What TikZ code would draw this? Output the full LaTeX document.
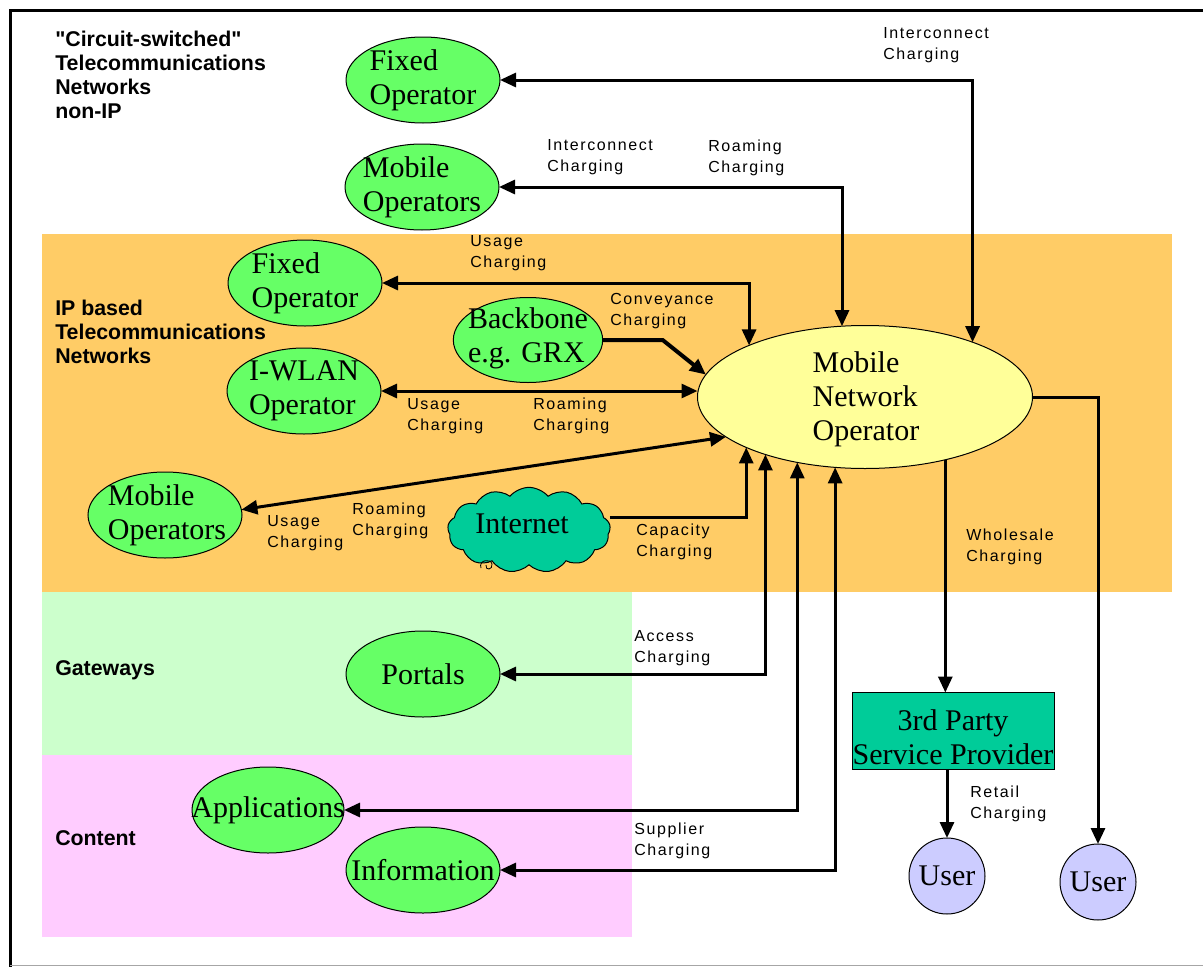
\documentclass[tikz,border=0pt]{standalone}
\usepackage{fontspec}
\setmainfont{Liberation Serif}
\setsansfont{Liberation Sans}[Ligatures=TeXOff]
\newfontfamily\lblfont[LetterSpace=10]{Liberation Sans}
\usetikzlibrary{shapes.geometric,shapes.symbols,arrows.meta}
\definecolor{bandor}{HTML}{FFCC66}
\definecolor{bandgr}{HTML}{CCFFCC}
\definecolor{bandpk}{HTML}{FFCCFF}
\definecolor{opgreen}{HTML}{66FF66}
\definecolor{mnoyel}{HTML}{FFFF99}
\definecolor{tealx}{HTML}{00CC99}
\definecolor{userc}{HTML}{CCCCFF}
\begin{document}
\begin{tikzpicture}[x=0.75pt,y=-0.75pt,
  >={Triangle[length=12pt,width=10.5pt]},
  gell/.style={ellipse, draw=black, line width=0.75pt, fill=opgreen,
    minimum width=115.5pt, minimum height=64.5pt, inner sep=0pt, outer sep=0pt},
  etext/.style={font=\fontsize{22.5}{25.5}\selectfont, align=left, inner sep=0pt},
  lbl/.style={font=\lblfont\fontsize{12}{16}\selectfont, align=left, anchor=west, inner sep=0pt},
  sec/.style={font=\sffamily\bfseries\fontsize{16}{18}\selectfont, align=left, anchor=west, inner sep=0pt},
  conn/.style={line width=2.25pt},
  usernode/.style={ellipse, draw=black, line width=0.75pt, fill=userc,
    minimum width=57pt, minimum height=57pt, inner sep=0pt, outer sep=0pt}
]
\useasboundingbox (0,0) rectangle (1203,967);
\fill[white] (0,0) rectangle (1203,967);
% bands
\fill[bandor] (42,234) rectangle (1172,592);
\fill[bandgr] (42,592) rectangle (632,755);
\fill[bandpk] (42,755) rectangle (632,937);
% frame
\draw[line width=2.25pt] (10,967) -- (10,10) -- (1203,10);
\draw[gray!70, line width=0.75pt] (10,965) -- (1203,965);
% section labels
\node[sec] (t-cs) at (55,75) {"Circuit-switched"\\Telecommunications\\Networks\\non-IP};
\node[sec] (t-ip) at (55,332) {IP based\\Telecommunications\\Networks};
\node[sec] (t-gw) at (55,670) {Gateways};
\node[sec] (t-ct) at (55,838) {Content};
% nodes
\node[gell] (fixc) at (423,80) {};
\node[etext] (fixc-t) at (fixc) {Fixed\\Operator};
\node[gell] (mopc) at (422,187) {};
\node[etext] (mopc-t) at (mopc) {Mobile\\Operators};
\node[gell] (fixi) at (305,283) {};
\node[etext] (fixi-t) at (fixi) {Fixed\\Operator};
\node[gell, minimum width=112pt, minimum height=63.75pt] (bb) at (528,340) {};
\node[etext] (bb-t) at (528,338) {Backbone\\e.g. GRX};
\node[gell] (iw) at (304,391) {};
\node[etext] (iw-t) at (iw) {I-WLAN\\Operator};
\node[gell] (mopi) at (165,515) {};
\node[etext] (mopi-t) at (167,515) {Mobile\\Operators};
\node[cloud, cloud puffs=13, cloud puff arc=100, aspect=2, draw=black, line width=0.75pt,
  fill=tealx, minimum width=122pt, minimum height=64pt, inner sep=0pt, outer sep=0pt] (inet) at (529,530) {};
\draw[line width=0.6pt] (481,568) .. controls (478,560) and (491,558) .. (492,564)
  .. controls (493,570) and (485,571) .. (486,565);
\node[etext] (inet-t) at (522,524) {Internet};
\node[ellipse, draw=black, line width=0.75pt, fill=mnoyel, minimum width=251.25pt,
  minimum height=107.25pt, inner sep=0pt, outer sep=0pt] (mno) at (865,397) {};
\node[etext] (mno-t) at (866,399) {Mobile\\Network\\Operator};
\node[gell] (port) at (423,674) {};
\node[etext] (port-t) at (port) {Portals};
\node[gell, minimum width=114pt] (apps) at (268,810) {};
\node[etext] (apps-t) at (apps) {Applications};
\node[gell] (info) at (423,870) {};
\node[etext] (info-t) at (info) {Information};
\node[rectangle, draw=black, line width=0.75pt, fill=tealx, minimum width=151.5pt,
  minimum height=57.75pt, inner sep=0pt, outer sep=0pt] (tp) at (953,731) {};
\node[etext, align=center] (tp-t) at (953,737) {3rd Party\\Service Provider};
\node[usernode] (u1) at (947,876) {};
\node[etext] (u1-t) at (u1) {User};
\node[usernode] (u2) at (1098,882) {};
\node[etext] (u2-t) at (u2) {User};
% connectors
\draw[conn,<->] (fixc.east) -| (mno.27.94);
\draw[conn,<->] (mopc.east) -| (mno.108);
\draw[conn,<->] (fixi.east) -| (mno.156.75);
\draw[conn,->,line width=3pt] (bb.east) -- ++(60,0) -- (mno.172);
\draw[conn,<->] (iw.east) -- (iw.east -| mno.west);
\draw[conn,<->] (mopi.4) -- (mno.196.4);
\draw[conn,->] (inet.east |- 0,517) -| (mno.203.25);
\draw[conn,<->] (port.east) -| (mno.210.24);
\draw[conn,<->] (apps.east) -| (mno.224.35);
\draw[conn,<->] (info.east) -| (mno.247.6);
\draw[conn,->] (mno.322.3) -- (mno.322.3 |- tp.north);
\draw[conn,->] (tp.south -| u1) -- (u1.north);
\draw[conn,->] (mno.east) -| (u2.north);
% connector labels
\node[lbl] (l-ic1) at (883,45) {Interconnect\\Charging};
\node[lbl] (l-ic2) at (547,157) {Interconnect\\Charging};
\node[lbl] (l-rc1) at (708,158) {Roaming\\Charging};
\node[lbl] (l-uc1) at (470,253) {Usage\\Charging};
\node[lbl] (l-cv) at (610,311) {Conveyance\\Charging};
\node[lbl] (l-uc2) at (407,416) {Usage\\Charging};
\node[lbl] (l-rc2) at (533,416) {Roaming\\Charging};
\node[lbl] (l-uc3) at (267,533) {Usage\\Charging};
\node[lbl] (l-rc3) at (352,521) {Roaming\\Charging};
\node[lbl] (l-cap) at (636,542) {Capacity\\Charging};
\node[lbl] (l-ws) at (966,547) {Wholesale\\Charging};
\node[lbl] (l-acc) at (634,648) {Access\\Charging};
\node[lbl] (l-sup) at (634,841) {Supplier\\Charging};
\node[lbl] (l-ret) at (970,804) {Retail\\Charging};
\end{tikzpicture}
\end{document}
